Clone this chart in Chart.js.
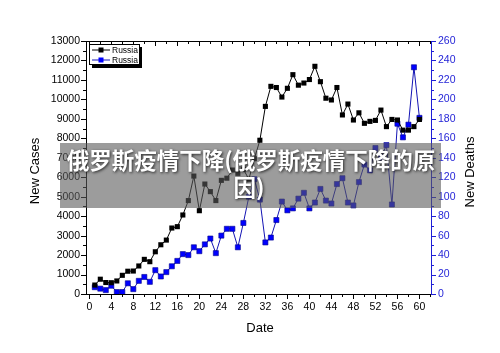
<!DOCTYPE html>
<html>
<head>
<meta charset="utf-8">
<script src="https://cdn.jsdelivr.net/npm/chart.js@4.4.0/dist/chart.umd.min.js"></script>
<style>
  html, body { margin: 0; padding: 0; background: #fff; }
  #wrap { width: 500px; height: 353px; }
</style>
</head>
<body>
<div id="wrap"><canvas id="myChart" width="500" height="353"></canvas></div>
<script>
// dagar (x), nya fall (vänster axel), nya dödsfall (höger axel)
const days = [1, 2, 3, 4, 5, 6, 7, 8, 9, 10,
  11, 12, 13, 14, 15, 16, 17, 18, 19, 20,
  21, 22, 23, 24, 25, 26, 27, 28, 29, 30,
  31, 32, 33, 34, 35, 36, 37, 38, 39, 40,
  41, 42, 43, 44, 45, 46, 47, 48, 49, 50,
  51, 52, 53, 54, 55, 56, 57, 58, 59, 60];

const cases = [460, 760, 590, 580, 670, 960, 1170, 1180, 1440, 1780,
  1660, 2170, 2530, 2770, 3390, 3460, 4060, 4800, 6060, 4280,
  5650, 5260, 4800, 5840, 5950, 6370, 6200, 6410, 5900, 6950,
  7900, 9640, 10670, 10610, 10120, 10570, 11270, 10730, 10840, 11020,
  11700, 10910, 10060, 9970, 10610, 9200, 9760, 8940, 9310, 8770,
  8870, 8920, 9450, 8600, 8970, 8940, 8420, 8420, 8600, 8970];

const deaths = [7, 5.5, 4, 8.5, 2, 2, 11, 5, 13.5, 17.5,
  12.5, 24.5, 18, 22.5, 28.5, 34, 41, 40, 48, 44,
  51, 57, 42, 60, 67, 67, 48, 73, 100, 118,
  97, 53, 58, 76, 95, 86, 88, 98, 104, 88,
  94, 108, 96, 93, 113, 119, 94, 91, 115, 133,
  127, 150, 140, 153, 92, 175, 161, 174, 233, 181];

const seriesNames = ['Russia', 'Russia'];
const xLabelEvery = 4;
const overlayLines = ['俄罗斯疫情下降(俄罗斯疫情下降的原', '因)'];

const BLUE = '#1f1fd6';
const FONT = '"Liberation Sans", Arial, sans-serif';

const datasets = [
  {
    label: seriesNames[0],
    data: days.map((d, i) => ({ x: d, y: cases[i] })),
    yAxisID: 'y',
    borderColor: '#000',
    backgroundColor: '#000',
    borderWidth: 1,
    pointStyle: 'rect',
    pointRadius: 3.6,
    pointBorderWidth: 0,
    tension: 0
  },
  {
    label: seriesNames[1],
    data: days.map((d, i) => ({ x: d, y: deaths[i] })),
    yAxisID: 'y1',
    borderColor: '#1414b4',
    backgroundColor: '#0000ff',
    pointBorderColor: '#00008b',
    borderWidth: 1,
    pointStyle: 'rect',
    pointRadius: 3.6,
    pointBorderWidth: 0.6,
    tension: 0
  }
];

function seg(ctx, x1, y1, x2, y2) {
  ctx.beginPath();
  ctx.moveTo(x1, y1);
  ctx.lineTo(x2, y2);
  ctx.stroke();
}

// ramar, tickmarkeringar och axeltitlar
const axesDecor = {
  id: 'axesDecor',
  afterDatasetsDraw(chart) {
    const { ctx, chartArea: a, scales } = chart;
    ctx.save();
    ctx.lineWidth = 1;
    ctx.strokeStyle = '#000';
    seg(ctx, a.left, a.top + 0.5, a.right, a.top + 0.5);
    seg(ctx, a.left, a.bottom + 0.5, a.right, a.bottom + 0.5);
    seg(ctx, a.left + 0.5, a.top, a.left + 0.5, a.bottom + 1);

    for (let v = 0; v <= 62; v += 2) {
      const px = Math.round(scales.x.getPixelForValue(v)) + 0.5;
      const len = v % 4 === 0 ? 5 : 3;
      seg(ctx, px, a.bottom, px, a.bottom + len);
      seg(ctx, px, a.top, px, a.top + len);
    }
    for (let v = 0; v <= 13000; v += 500) {
      const py = Math.round(scales.y.getPixelForValue(v)) + 0.5;
      const len = v % 1000 === 0 ? 5 : 3;
      seg(ctx, a.left - len, py, a.left, py);
    }
    ctx.strokeStyle = BLUE;
    seg(ctx, a.right + 0.5, a.top, a.right + 0.5, a.bottom + 1);
    for (let v = 0; v <= 260; v += 10) {
      const py = Math.round(scales.y1.getPixelForValue(v)) + 0.5;
      const len = v % 20 === 0 ? 5 : 3;
      seg(ctx, a.right, py, a.right + len, py);
    }

    ctx.fillStyle = '#000';
    ctx.font = '13px ' + FONT;
    ctx.textAlign = 'center';
    ctx.textBaseline = 'middle';
    ctx.fillText('Date', 260, 328);
    ctx.save();
    ctx.translate(35, 171);
    ctx.rotate(-Math.PI / 2);
    ctx.fillText('New Cases', 0, 0);
    ctx.restore();
    ctx.save();
    ctx.translate(470, 172);
    ctx.rotate(-Math.PI / 2);
    ctx.fillText('New Deaths', 0, 0);
    ctx.restore();

    // legend
    ctx.fillStyle = '#000';
    ctx.fillRect(92, 47, 50, 21);
    ctx.fillStyle = '#fff';
    ctx.fillRect(89.5, 44.5, 50, 20);
    ctx.strokeStyle = '#000';
    ctx.strokeRect(89.5, 44.5, 50, 20);
    ctx.font = '8.5px ' + FONT;
    ctx.textAlign = 'left';
    datasets.forEach((ds, i) => {
      const y = 50 + i * 10;
      ctx.strokeStyle = ds.borderColor;
      seg(ctx, 92, y, 110, y);
      ctx.fillStyle = ds.backgroundColor;
      ctx.fillRect(98.5, y - 2.5, 5, 5);
      ctx.fillStyle = '#000';
      ctx.fillText(ds.label, 112, y + 0.5);
    });
    ctx.restore();
  },
  afterDraw(chart) {
    const { ctx } = chart;
    ctx.save();
    ctx.fillStyle = 'rgba(90, 90, 90, 0.6)';
    ctx.fillRect(60, 143, 381, 65);
    ctx.font = 'bold 22.5px "Noto Sans CJK SC", sans-serif';
    ctx.textAlign = 'center';
    ctx.textBaseline = 'middle';
    ctx.shadowColor = 'rgba(0, 0, 0, 0.75)';
    ctx.shadowBlur = 3;
    ctx.shadowOffsetX = 1;
    ctx.shadowOffsetY = 1;
    ctx.fillStyle = '#fff';
    ctx.fillText(overlayLines[0], 251, 160);
    ctx.fillText(overlayLines[1], 249, 187);
    ctx.restore();
  }
};

new Chart(document.getElementById('myChart'), {
  type: 'line',
  data: { datasets },
  options: {
    responsive: false,
    animation: false,
    layout: { padding: { top: 41, left: 0, right: 0, bottom: 0 } },
    plugins: {
      legend: { display: false },
      tooltip: { enabled: false }
    },
    scales: {
      x: {
        type: 'linear',
        min: -0.6,
        max: 62.1,
        afterFit: (s) => { s.height = 59; },
        grid: { display: false, drawTicks: false },
        border: { display: false },
        ticks: {
          stepSize: 2,
          includeBounds: false,
          autoSkip: false,
          maxRotation: 0,
          padding: 7,
          color: '#000',
          font: { family: FONT, size: 10.5 },
          callback: (v) => (v >= 0 && v % xLabelEvery === 0 ? v : '')
        }
      },
      y: {
        position: 'left',
        min: 0,
        max: 13000,
        afterFit: (s) => { s.width = 86; },
        grid: { display: false, drawTicks: false },
        border: { display: false },
        ticks: {
          stepSize: 1000,
          padding: 6,
          color: '#000',
          font: { family: FONT, size: 10.5 },
          callback: (v) => v
        }
      },
      y1: {
        position: 'right',
        min: 0,
        max: 260,
        afterFit: (s) => { s.width = 69; },
        grid: { display: false, drawTicks: false },
        border: { display: false },
        ticks: {
          stepSize: 20,
          padding: 7,
          color: BLUE,
          font: { family: FONT, size: 10.5 }
        }
      }
    }
  },
  plugins: [axesDecor]
});
</script>
</body>
</html>
